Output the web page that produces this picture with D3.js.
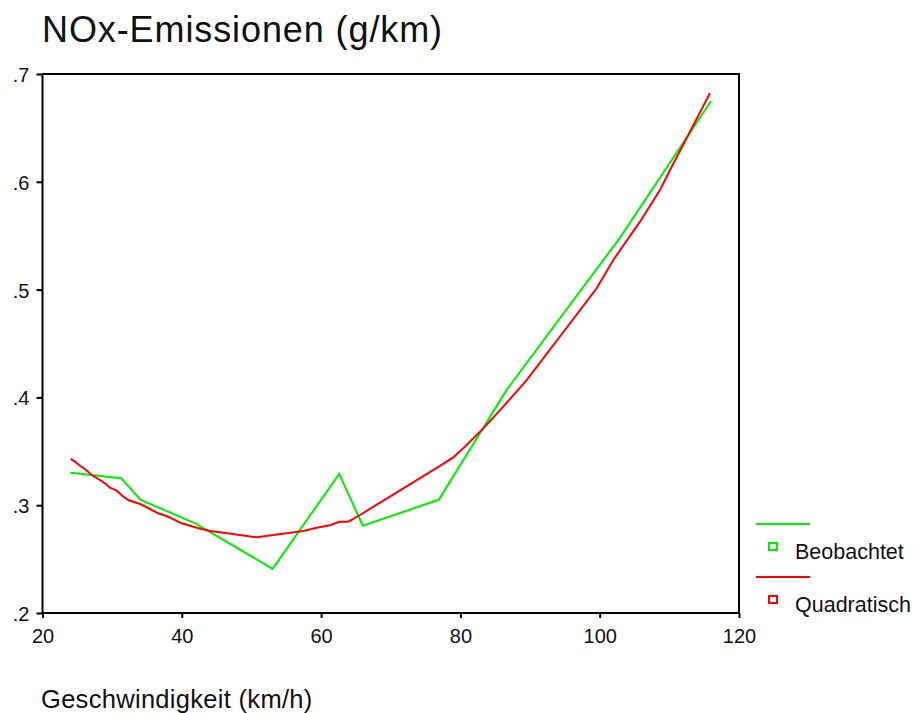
<!DOCTYPE html>
<html>
<head>
<meta charset="utf-8">
<script src="https://cdn.jsdelivr.net/npm/d3@7"></script>
<style>
  body { margin: 0; background: #fff; }
  svg { display: block; font-family: "Liberation Sans", Arial, sans-serif; }
</style>
</head>
<body>
<div id="chart"></div>
<script>
// observed means (Beobachtet)
var speedObs = [ 24.0, 31.3, 34.1, 42.0, 53.05, 62.6, 66.0, 76.9, 86.65, 102.9, 116.0 ];
var noxObs = [ 0.330, 0.325, 0.305, 0.283, 0.241, 0.329, 0.281, 0.305, 0.407, 0.548, 0.675 ];

// quadratic fit (Quadratisch)
var speedFit = [ 24.05, 24.67, 25.38, 26.10, 27.06, 28.26, 28.97, 29.69, 30.65, 31.51, 32.32,
  34.00, 34.96, 36.63, 38.06, 39.99, 42.14, 44.05, 45.48, 50.75, 57.44, 59.37, 61.28,
  62.61, 63.91, 65.59, 67.02, 77.07, 78.98, 80.42, 83.29, 86.16, 89.52, 99.57, 101.96,
  105.79, 108.66, 110.34, 112.96, 115.83 ];
var noxFit = [ 0.3429, 0.3404, 0.3366, 0.3336, 0.3280, 0.3234, 0.3203, 0.3162, 0.3135, 0.3085, 0.3048,
  0.3011, 0.2981, 0.2925, 0.2893, 0.2832, 0.2791, 0.2761, 0.2749, 0.2702, 0.2761, 0.2791, 0.2814,
  0.2847, 0.2847, 0.2909, 0.2965, 0.3364, 0.3444, 0.3528, 0.3713, 0.3914, 0.4161, 0.5012, 0.5275,
  0.5630, 0.5924, 0.6140, 0.6465, 0.6821 ];

var xTicks = [ 20, 40, 60, 80, 100, 120 ];
var yTicks = [ 0.2, 0.3, 0.4, 0.5, 0.6, 0.7 ];

var seriesNames = [ 'Beobachtet', 'Quadratisch' ];
var seriesColors = [ '#00ee00', '#ff0000' ];

var width = 913, height = 713;
var plot = { left: 42.5, right: 739, top: 74, bottom: 613 };

var x = d3.scaleLinear().domain( [ 20, 120 ] ).range( [ plot.left, plot.right ] );
var y = d3.scaleLinear().domain( [ 0.2, 0.7 ] ).range( [ plot.bottom, plot.top ] );

var svg = d3.select( '#chart' ).append( 'svg' )
  .attr( 'width', width )
  .attr( 'height', height );

svg.append( 'text' )
  .attr( 'x', 42 )
  .attr( 'y', 41.5 )
  .attr( 'font-size', '36px' )
  .attr( 'letter-spacing', '0.9px' )
  .attr( 'fill', '#111' )
  .text( 'NOx-Emissionen (g/km)' );

// frame
svg.append( 'rect' )
  .attr( 'x', plot.left )
  .attr( 'y', plot.top )
  .attr( 'width', plot.right - plot.left )
  .attr( 'height', plot.bottom - plot.top )
  .attr( 'fill', 'none' )
  .attr( 'stroke', '#000' )
  .attr( 'stroke-width', 2 );

var yAxis = svg.append( 'g' )
  .attr( 'transform', 'translate(' + plot.left + ',0)' )
  .call( d3.axisLeft( y ).tickValues( yTicks ).tickSize( 6 ).tickPadding( 7 )
    .tickFormat( function( d ) { return d3.format( '.1f' )( d ).replace( /^0/, '' ); } ) );

var xAxis = svg.append( 'g' )
  .attr( 'transform', 'translate(0,' + plot.bottom + ')' )
  .call( d3.axisBottom( x ).tickValues( xTicks ).tickSize( 5 ).tickFormat( d3.format( 'd' ) ) );

[ yAxis, xAxis ].forEach( function( g ) {
  g.select( '.domain' ).remove();
  g.selectAll( '.tick line' ).attr( 'stroke', '#000' ).attr( 'stroke-width', 2 );
  g.selectAll( '.tick text' )
    .attr( 'font-family', '"Liberation Sans", Arial, sans-serif' )
    .attr( 'font-size', '20px' )
    .attr( 'fill', '#111' );
} );
yAxis.selectAll( '.tick text' ).attr( 'dy', '0.37em' );
xAxis.selectAll( '.tick text' ).attr( 'y', 30 ).attr( 'dy', 0 );

svg.append( 'text' )
  .attr( 'x', 41 )
  .attr( 'y', 708 )
  .attr( 'font-size', '25.5px' )
  .attr( 'letter-spacing', '0.3px' )
  .attr( 'fill', '#111' )
  .text( 'Geschwindigkeit (km/h)' );

var line = d3.line()
  .x( function( d ) { return x( d[ 0 ] ); } )
  .y( function( d ) { return y( d[ 1 ] ); } );

var obsData = d3.zip( speedObs, noxObs );
var fitData = d3.zip( speedFit, noxFit );

svg.append( 'path' )
  .datum( obsData )
  .attr( 'd', line )
  .attr( 'fill', 'none' )
  .attr( 'stroke', seriesColors[ 0 ] )
  .attr( 'stroke-width', 2 );

svg.append( 'path' )
  .datum( fitData )
  .attr( 'd', line )
  .attr( 'fill', 'none' )
  .attr( 'stroke', seriesColors[ 1 ] )
  .attr( 'stroke-width', 2 );

// legend
var legend = svg.append( 'g' )
  .attr( 'transform', 'translate(756,524)' );

seriesNames.forEach( function( name, i ) {
  var g = legend.append( 'g' ).attr( 'transform', 'translate(0,' + ( i * 53 ) + ')' );
  g.append( 'line' )
    .attr( 'x1', 0 ).attr( 'x2', 54 )
    .attr( 'y1', 0 ).attr( 'y2', 0 )
    .attr( 'stroke', seriesColors[ i ] )
    .attr( 'stroke-width', 2 );
  g.append( 'rect' )
    .attr( 'x', 13 ).attr( 'y', 19 )
    .attr( 'width', 8 ).attr( 'height', 7 )
    .attr( 'fill', 'none' )
    .attr( 'stroke', seriesColors[ i ] )
    .attr( 'stroke-width', 2 );
  g.append( 'text' )
    .attr( 'x', 39 )
    .attr( 'y', 34.5 )
    .attr( 'font-size', '21.5px' )
    .attr( 'fill', '#111' )
    .text( name );
} );
</script>
</body>
</html>
